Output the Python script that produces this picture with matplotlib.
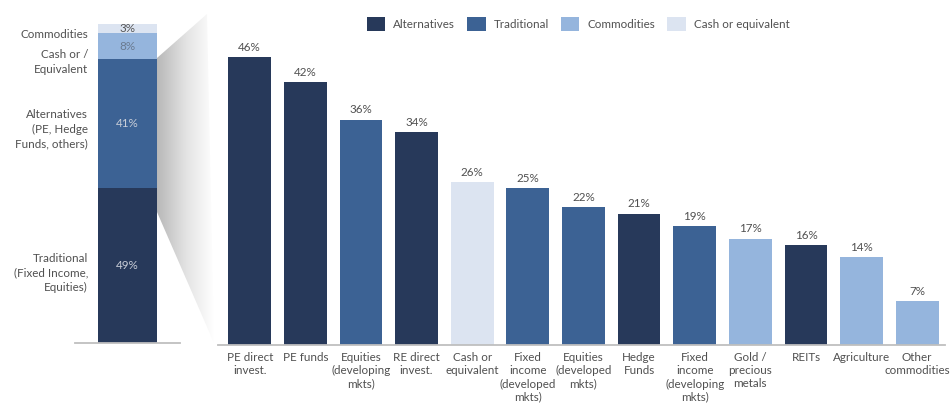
import matplotlib
matplotlib.use("Agg")
import matplotlib.pyplot as plt
import numpy as np
from matplotlib.patches import Polygon, Patch
from matplotlib.colors import LinearSegmentedColormap

plt.rcParams['font.family'] = ['Lato', 'DejaVu Sans']

# Allocation mix (stacked column, bottom to top)
mix_values = [49, 41, 8, 3]
mix_colors = ["#27395A", "#3C6294", "#95B5DD", "#DCE4F1"]
mix_text_colors = ["#C9CED8", "#C9CED8", "#6A7A90", "#555555"]
mix_labels = ["Traditional\n(Fixed Income,\nEquities)",
              "Alternatives\n(PE, Hedge\nFunds, others)",
              "Cash or /\nEquivalent",
              "Commodities"]
mix_label_y = [22.2, 67.7, 88.9, 97.8]

# Asset classes
categories = ["PE direct\ninvest.", "PE funds", "Equities\n(developing\nmkts)",
              "RE direct\ninvest.", "Cash or\nequivalent",
              "Fixed\nincome\n(developed\nmkts)", "Equities\n(developed\nmkts)",
              "Hedge\nFunds", "Fixed\nincome\n(developing\nmkts)",
              "Gold /\nprecious\nmetals", "REITs", "Agriculture",
              "Other\ncommodities"]
values = [46, 42, 36, 34, 26, 25, 22, 21, 19, 17, 16, 14, 7]
groups = ["Alternatives", "Alternatives", "Traditional", "Alternatives",
          "Cash or equivalent", "Traditional", "Traditional", "Alternatives",
          "Traditional", "Commodities", "Alternatives", "Commodities",
          "Commodities"]
group_names = ["Alternatives", "Traditional", "Commodities", "Cash or equivalent"]
group_colors = {"Alternatives": "#27395A", "Traditional": "#3C6294",
                "Commodities": "#95B5DD", "Cash or equivalent": "#DCE4F1"}

TEXT = "#505050"
FS = 8.4
W, H = 953, 411
fig = plt.figure(figsize=(W / 100, H / 100), dpi=100)


def px_box(x0, y0, x1, y1):
    return [x0 / W, 1 - y1 / H, (x1 - x0) / W, (y1 - y0) / H]


# Grey funnel shading between the two panels
bg = fig.add_axes([0, 0, 1, 1], zorder=-1)
bg.set_xlim(0, W)
bg.set_ylim(H, 0)
bg.axis("off")
shade = LinearSegmentedColormap.from_list("shade", ["#B8B8B8", "#E2E2E2", "#FFFFFF"])
grad = np.linspace(0, 1, 256)[None, :]
img = bg.imshow(grad, cmap=shade, extent=(157, 214, 345, 10), aspect="auto",
                interpolation="bilinear")
wedge = Polygon([(157, 58), (207, 14), (214, 343), (157, 212)], closed=True,
                transform=bg.transData, facecolor="none", edgecolor="none")
bg.add_patch(wedge)
img.set_clip_path(wedge)

# Left: stacked allocation column
ax1 = fig.add_axes(px_box(75, 24, 180, 343))
ax1.patch.set_visible(False)
ax1.set_xlim(-1, 1)
ax1.set_ylim(0, 101)
bottom = 0
for v, c, tc in zip(mix_values, mix_colors, mix_text_colors):
    ax1.bar(0, v, bottom=bottom, width=1.124, color=c, linewidth=0)
    ax1.text(0, bottom + v / 2, f"{v}%", ha="center", va="center",
             fontsize=FS, color=tc)
    bottom += v
for lab, y in zip(mix_labels, mix_label_y):
    ax1.text(0.124, y, lab, transform=ax1.get_yaxis_transform(), ha="right",
             va="center", fontsize=FS, color=TEXT, linespacing=1.4)
for s in ["top", "right", "left"]:
    ax1.spines[s].set_visible(False)
ax1.spines["bottom"].set_color("#BFBFBF")
ax1.spines["bottom"].set_linewidth(1.3)
ax1.set_xticks([])
ax1.set_yticks([])

# Right: asset class columns
ax = fig.add_axes(px_box(218, 32, 945, 345))
ax.patch.set_visible(False)
x = np.arange(len(categories))
ax.bar(x, values, width=0.77, color=[group_colors[g] for g in groups], linewidth=0)
for xi, v in zip(x, values):
    ax.annotate(f"{v}%", (xi, v), xytext=(0, 3), textcoords="offset points",
                ha="center", va="bottom", fontsize=FS, color=TEXT)
ax.set_xlim(-0.57, 12.5)
ax.set_ylim(0, 50)
ax.set_xticks(x)
ax.set_xticklabels(categories, fontsize=FS, color=TEXT, linespacing=1.25)
ax.tick_params(axis="x", length=0, pad=5)
ax.set_yticks([])
for s in ["top", "right", "left"]:
    ax.spines[s].set_visible(False)
ax.spines["bottom"].set_color("#BFBFBF")
ax.spines["bottom"].set_linewidth(1.3)

handles = [Patch(facecolor=group_colors[g], edgecolor="none", label=g)
           for g in group_names]
fig.legend(handles=handles, loc="center", bbox_to_anchor=(578 / W, 1 - 24 / H),
           ncol=4, frameon=False, fontsize=FS, handlelength=1.6, handleheight=1.4,
           handletextpad=0.7, columnspacing=1.0, labelcolor=TEXT)

fig.savefig("out.png", dpi=100)
